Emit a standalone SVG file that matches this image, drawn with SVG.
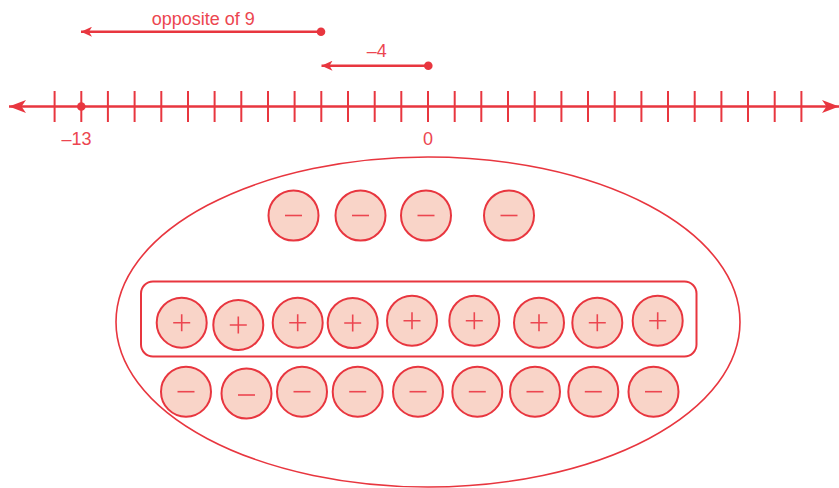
<svg xmlns="http://www.w3.org/2000/svg" width="839" height="488" viewBox="0 0 839 488">
<style>
.ln{stroke:#e8363f;stroke-width:2.6;fill:none}
.tk{stroke:#e8363f;stroke-width:2}
.dot{fill:#e8363f}
.txt{font-family:"Liberation Sans",Arial,sans-serif;font-size:18px;fill:#ec4650;text-anchor:middle}
.chip{fill:#f9d4c8;stroke:#e8363f;stroke-width:2}
.sg{stroke:#ec4650;stroke-width:1.6;fill:none}
.oval{fill:none;stroke:#e8363f;stroke-width:1.6}
.box{fill:none;stroke:#e8363f;stroke-width:2}
</style>
<defs>
<marker id="ah" viewBox="0 0 11 10" refX="11" refY="5" markerWidth="11" markerHeight="10" markerUnits="userSpaceOnUse" orient="auto">
<path d="M0,0 L11,5 L0,10 L3,5 Z" fill="#e8363f"/>
</marker>
<marker id="ahb" viewBox="0 0 17 13" refX="17" refY="6.5" markerWidth="17" markerHeight="13" markerUnits="userSpaceOnUse" orient="auto">
<path d="M0,0 L17,6.5 L0,13 L4.5,6.5 Z" fill="#e8363f"/>
</marker>
</defs>

<g id="number-line">
<line class="ln" x1="424" y1="106.5" x2="9" y2="106.5" marker-end="url(#ahb)"/>
<line class="ln" x1="424" y1="106.5" x2="839" y2="106.5" marker-end="url(#ahb)"/>
<g class="tk">
<line x1="54.6" y1="91" x2="54.6" y2="122"/>
<line x1="81.3" y1="91" x2="81.3" y2="122"/>
<line x1="107.9" y1="91" x2="107.9" y2="122"/>
<line x1="134.6" y1="91" x2="134.6" y2="122"/>
<line x1="161.3" y1="91" x2="161.3" y2="122"/>
<line x1="188" y1="91" x2="188" y2="122"/>
<line x1="214.6" y1="91" x2="214.6" y2="122"/>
<line x1="241.3" y1="91" x2="241.3" y2="122"/>
<line x1="268" y1="91" x2="268" y2="122"/>
<line x1="294.6" y1="91" x2="294.6" y2="122"/>
<line x1="321.3" y1="91" x2="321.3" y2="122"/>
<line x1="348" y1="91" x2="348" y2="122"/>
<line x1="374.7" y1="91" x2="374.7" y2="122"/>
<line x1="401.3" y1="91" x2="401.3" y2="122"/>
<line x1="428" y1="91" x2="428" y2="122"/>
<line x1="454.7" y1="91" x2="454.7" y2="122"/>
<line x1="481.3" y1="91" x2="481.3" y2="122"/>
<line x1="508" y1="91" x2="508" y2="122"/>
<line x1="534.7" y1="91" x2="534.7" y2="122"/>
<line x1="561.4" y1="91" x2="561.4" y2="122"/>
<line x1="588" y1="91" x2="588" y2="122"/>
<line x1="614.7" y1="91" x2="614.7" y2="122"/>
<line x1="641.4" y1="91" x2="641.4" y2="122"/>
<line x1="668" y1="91" x2="668" y2="122"/>
<line x1="694.7" y1="91" x2="694.7" y2="122"/>
<line x1="721.4" y1="91" x2="721.4" y2="122"/>
<line x1="748" y1="91" x2="748" y2="122"/>
<line x1="774.7" y1="91" x2="774.7" y2="122"/>
<line x1="801.4" y1="91" x2="801.4" y2="122"/>
</g>
<circle class="dot" cx="81.3" cy="106.5" r="4.3"/>
<text class="txt" x="76.5" y="145">–13</text>
<text class="txt" x="428" y="145">0</text>
</g>

<g id="connectors">
<g id="arrow-opposite-9">
<line class="ln" x1="321" y1="31.7" x2="81" y2="31.7" marker-end="url(#ah)"/>
<circle class="dot" cx="321" cy="31.7" r="4.3"/>
<text class="txt" x="203.3" y="25">opposite of 9</text>
</g>
<g id="arrow-minus-4">
<line class="ln" x1="428.3" y1="65.7" x2="321.5" y2="65.7" marker-end="url(#ah)"/>
<circle class="dot" cx="428.3" cy="65.7" r="4.3"/>
<text class="txt" x="376.7" y="57.3">–4</text>
</g>
</g>

<g id="set">
<ellipse class="oval" cx="428" cy="322" rx="312" ry="165"/>
<rect class="box" x="141" y="281.5" width="555.5" height="75" rx="12" ry="12"/>
</g>

<g id="top-negatives">
<g id="tn1"><circle class="chip" cx="293.5" cy="215.5" r="25"/><path class="sg" d="M285,215.5h17"/></g>
<g id="tn2"><circle class="chip" cx="360.5" cy="215.5" r="25"/><path class="sg" d="M352,215.5h17"/></g>
<g id="tn3"><circle class="chip" cx="426" cy="215.5" r="25"/><path class="sg" d="M417.5,215.5h17"/></g>
<g id="tn4"><circle class="chip" cx="509" cy="215.5" r="25"/><path class="sg" d="M500.5,215.5h17"/></g>
</g>

<g id="positives">
<g id="p1"><circle class="chip" cx="181.7" cy="322.7" r="25"/><path class="sg" d="M173.2,322.7h17M181.7,314.2v17"/></g>
<g id="p2"><circle class="chip" cx="238.3" cy="325" r="25"/><path class="sg" d="M229.8,325h17M238.3,316.5v17"/></g>
<g id="p3"><circle class="chip" cx="297.7" cy="322.7" r="25"/><path class="sg" d="M289.2,322.7h17M297.7,314.2v17"/></g>
<g id="p4"><circle class="chip" cx="352.7" cy="323" r="25"/><path class="sg" d="M344.2,323h17M352.7,314.5v17"/></g>
<g id="p5"><circle class="chip" cx="412" cy="320.7" r="25"/><path class="sg" d="M403.5,320.7h17M412,312.2v17"/></g>
<g id="p6"><circle class="chip" cx="474.3" cy="320.7" r="25"/><path class="sg" d="M465.8,320.7h17M474.3,312.2v17"/></g>
<g id="p7"><circle class="chip" cx="539" cy="322.7" r="25"/><path class="sg" d="M530.5,322.7h17M539,314.2v17"/></g>
<g id="p8"><circle class="chip" cx="597.3" cy="322.7" r="25"/><path class="sg" d="M588.8,322.7h17M597.3,314.2v17"/></g>
<g id="p9"><circle class="chip" cx="657.7" cy="320.7" r="25"/><path class="sg" d="M649.2,320.7h17M657.7,312.2v17"/></g>
</g>

<g id="bottom-negatives">
<g id="n1"><circle class="chip" cx="186" cy="391.7" r="25"/><path class="sg" d="M177.5,391.7h17"/></g>
<g id="n2"><circle class="chip" cx="246.5" cy="393.5" r="25"/><path class="sg" d="M238,395h17"/></g>
<g id="n3"><circle class="chip" cx="302" cy="391.7" r="25"/><path class="sg" d="M293.5,391.7h17"/></g>
<g id="n4"><circle class="chip" cx="357.7" cy="391.7" r="25"/><path class="sg" d="M349.2,391.7h17"/></g>
<g id="n5"><circle class="chip" cx="418" cy="391.7" r="25"/><path class="sg" d="M409.5,391.7h17"/></g>
<g id="n6"><circle class="chip" cx="477.3" cy="391.7" r="25"/><path class="sg" d="M468.8,391.7h17"/></g>
<g id="n7"><circle class="chip" cx="535" cy="391.7" r="25"/><path class="sg" d="M526.5,391.7h17"/></g>
<g id="n8"><circle class="chip" cx="593.3" cy="391.7" r="25"/><path class="sg" d="M584.8,391.7h17"/></g>
<g id="n9"><circle class="chip" cx="653.5" cy="391.7" r="25"/><path class="sg" d="M645,391.7h17"/></g>
</g>
</svg>
